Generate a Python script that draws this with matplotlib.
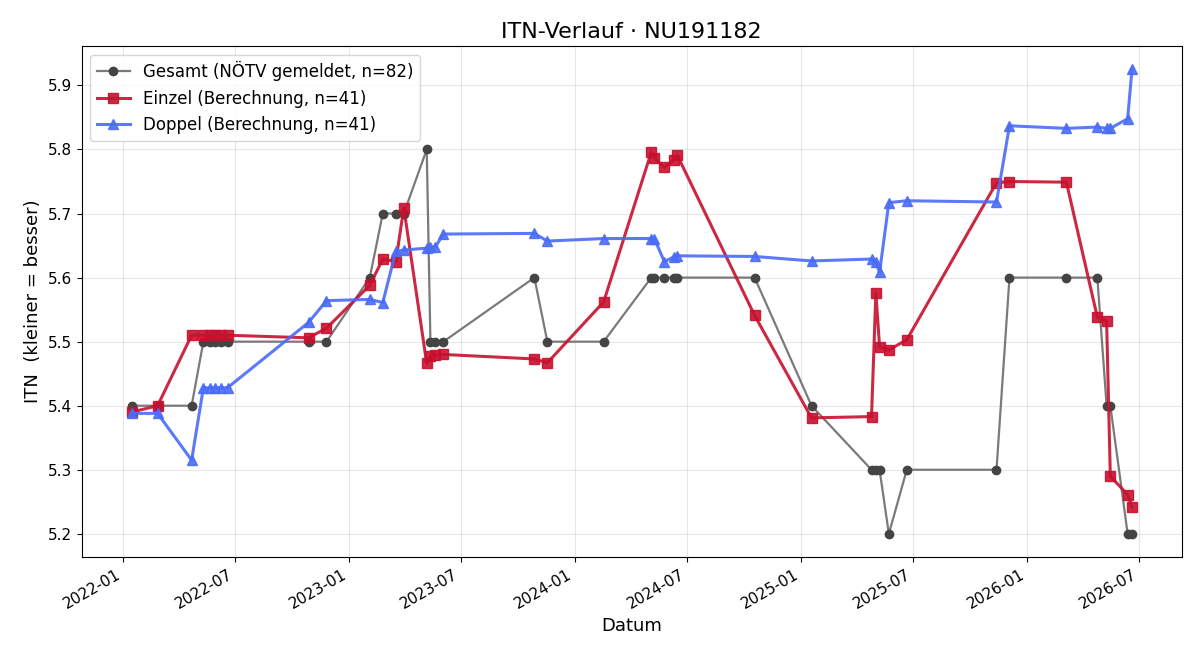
import matplotlib
matplotlib.use("Agg")
import matplotlib.pyplot as plt
import matplotlib.dates as mdates
import pandas as pd

# Spieltermine (gleich fuer Einzel und Doppel)
match_dates = [
    "2022-01-15", "2022-02-26", "2022-04-22", "2022-05-11", "2022-05-21",
    "2022-05-29", "2022-06-09", "2022-06-19", "2022-10-28", "2022-11-26",
    "2023-02-04", "2023-02-25", "2023-03-18", "2023-03-31", "2023-05-07",
    "2023-05-13", "2023-05-21", "2023-06-03", "2023-10-28", "2023-11-18",
    "2024-02-17", "2024-05-04", "2024-05-09", "2024-05-25", "2024-06-09",
    "2024-06-15", "2024-10-18", "2025-01-18", "2025-04-25", "2025-05-02",
    "2025-05-08", "2025-05-23", "2025-06-21", "2025-11-13", "2025-12-04",
    "2026-03-06", "2026-04-25", "2026-05-10", "2026-05-16", "2026-06-13",
    "2026-06-20",
]

itn_gesamt = [
    5.4, 5.4, 5.4, 5.5, 5.5, 5.5, 5.5, 5.5, 5.5, 5.5,
    5.6, 5.7, 5.7, 5.7, 5.8, 5.5, 5.5, 5.5, 5.6, 5.5,
    5.5, 5.6, 5.6, 5.6, 5.6, 5.6, 5.6, 5.4, 5.3, 5.3,
    5.3, 5.2, 5.3, 5.3, 5.6, 5.6, 5.6, 5.4, 5.4, 5.2,
    5.2,
]

itn_einzel = [
    5.390, 5.400, 5.510, 5.510, 5.510, 5.510, 5.510, 5.510, 5.506, 5.521,
    5.588, 5.629, 5.625, 5.709, 5.466, 5.477, 5.479, 5.480, 5.473, 5.467,
    5.562, 5.796, 5.787, 5.772, 5.783, 5.791, 5.541, 5.381, 5.383, 5.576,
    5.492, 5.487, 5.503, 5.748, 5.750, 5.749, 5.538, 5.532, 5.290, 5.261,
    5.242,
]

itn_doppel = [
    5.388, 5.388, 5.315, 5.428, 5.428, 5.428, 5.428, 5.428, 5.530, 5.564,
    5.566, 5.561, 5.641, 5.643, 5.646, 5.647, 5.648, 5.668, 5.669, 5.657,
    5.661, 5.661, 5.661, 5.625, 5.632, 5.634, 5.633, 5.626, 5.629, 5.624,
    5.608, 5.717, 5.720, 5.718, 5.837, 5.833, 5.835, 5.833, 5.833, 5.848,
    5.925,
]

dates = pd.to_datetime(match_dates)

fig, ax = plt.subplots(figsize=(12, 6.6), dpi=100)

ax.plot(dates, itn_gesamt, color="#7a7a7a", lw=1.6, marker="o", markersize=6,
        markerfacecolor="#444444", markeredgecolor="#444444",
        label="Gesamt (NÖTV gemeldet, n=82)")
ax.plot(dates, itn_einzel, color="#c8102e", lw=2.2, marker="s", markersize=7,
        alpha=0.9, label="Einzel (Berechnung, n=41)")
ax.plot(dates, itn_doppel, color="#4a6cf7", lw=2.2, marker="^", markersize=7,
        alpha=0.9, label="Doppel (Berechnung, n=41)")

ax.set_title("ITN-Verlauf · NU191182", fontsize=16)
ax.set_xlabel("Datum", fontsize=13)
ax.set_ylabel("ITN  (kleiner = besser)", fontsize=13)
ax.tick_params(labelsize=11)
ax.grid(True, alpha=0.3)
ax.legend(loc="upper left", fontsize=12)

ax.xaxis.set_major_locator(mdates.MonthLocator(bymonth=[1, 7]))
ax.xaxis.set_major_formatter(mdates.DateFormatter("%Y-%m"))
fig.autofmt_xdate()

fig.subplots_adjust(left=0.068, right=0.985, top=0.930, bottom=0.156)
fig.savefig("out.png")
